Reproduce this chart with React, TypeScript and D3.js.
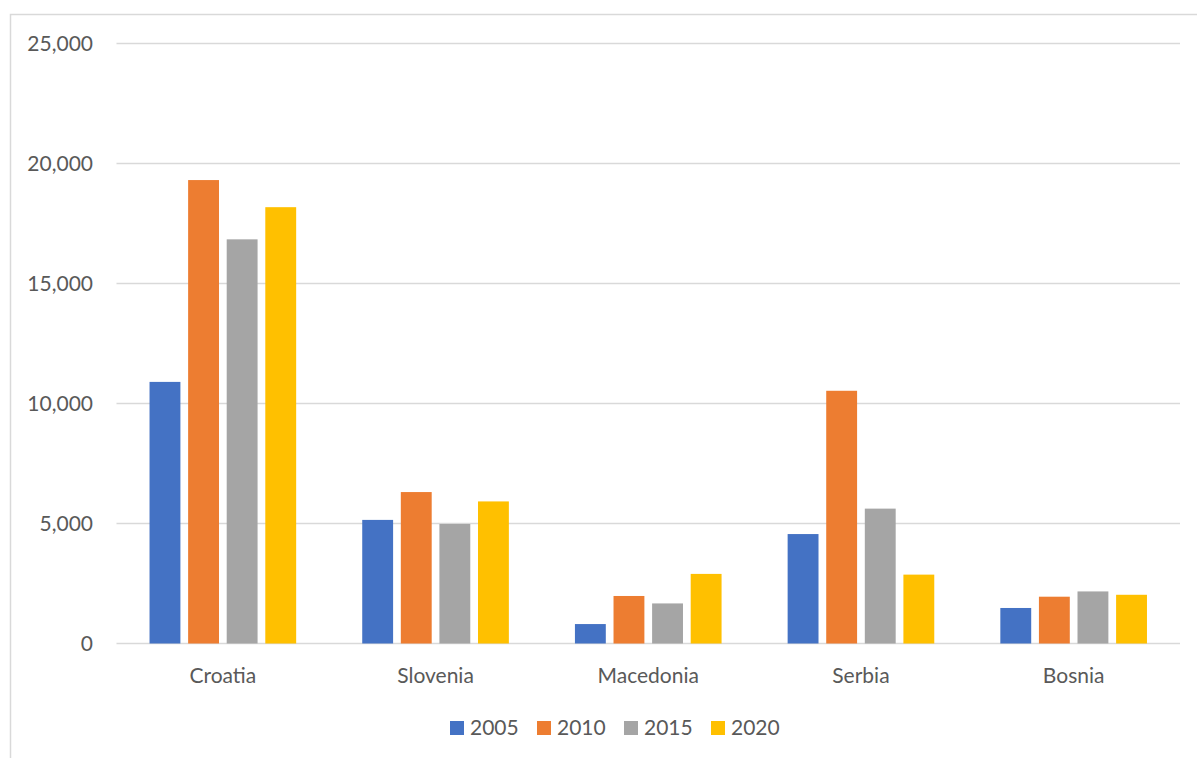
import React from "react";
import * as d3 from "d3";

const categories = ["Croatia", "Slovenia", "Macedonia", "Serbia", "Bosnia"];
const seriesNames = ["2005", "2010", "2015", "2020"];
const values2005 = [10900, 5150, 810, 4560, 1480];
const values2010 = [19310, 6310, 1980, 10530, 1950];
const values2015 = [16840, 4980, 1670, 5620, 2170];
const values2020 = [18180, 5920, 2900, 2870, 2030];
const seriesColors = ["#4472C4", "#ED7D31", "#A5A5A5", "#FFC000"];
const yTicks = [0, 5000, 10000, 15000, 20000, 25000];

const W = 1197;
const H = 758;
const plotLeft = 116.5;
const plotRight = 1180;
const plotTop = 43.5;
const plotBottom = 643.5;
const FONT = "Lato, 'Open Sans', sans-serif";
const TEXT = "#595959";

export default function App() {
  const series = [values2005, values2010, values2015, values2020];
  const x = d3.scaleBand<string>().domain(categories).range([plotLeft, plotRight]).paddingInner(0).paddingOuter(0);
  const y = d3.scaleLinear().domain([0, 25000]).range([plotBottom, plotTop]);
  const bw = x.bandwidth();
  const barW = bw / (4 + 3 * 0.25 + 2.14);
  const gap = barW * 0.25;
  const groupW = 4 * barW + 3 * gap;
  const fmt = d3.format(",");

  return (
    <svg width={W} height={H} style={{ position: "absolute", left: 0, top: 0, background: "#fff" }}>
      <rect x={10.5} y={14.5} width={W + 10} height={H + 10} fill="#fff" stroke="#d9d9d9" strokeWidth={1.5} />
      {yTicks.map((t) => (
        <g key={t}>
          <line x1={plotLeft} x2={plotRight} y1={y(t)} y2={y(t)} stroke="#d9d9d9" strokeWidth={1.5} />
          <text x={93} y={y(t)} dy="0.36em" textAnchor="end" fontFamily={FONT} fontSize={21} fill={TEXT}>
            {fmt(t)}
          </text>
        </g>
      ))}
      {categories.map((c, ci) => {
        const start = (x(c) as number) + (bw - groupW) / 2;
        return (
          <g key={c}>
            {series.map((s, si) => (
              <rect
                key={si}
                x={start + si * (barW + gap)}
                y={y(s[ci])}
                width={barW}
                height={y(0) - y(s[ci])}
                fill={seriesColors[si]}
              />
            ))}
            <text x={(x(c) as number) + bw / 2} y={682.5} textAnchor="middle" fontFamily={FONT} fontSize={21} fill={TEXT}>
              {c}
            </text>
          </g>
        );
      })}
      {seriesNames.map((n, i) => (
        <g key={n} transform={`translate(${450 + i * 87},0)`}>
          <rect x={0} y={721} width={14} height={14} fill={seriesColors[i]} />
          <text x={20} y={735} fontFamily={FONT} fontSize={21} fill={TEXT}>
            {n}
          </text>
        </g>
      ))}
    </svg>
  );
}
